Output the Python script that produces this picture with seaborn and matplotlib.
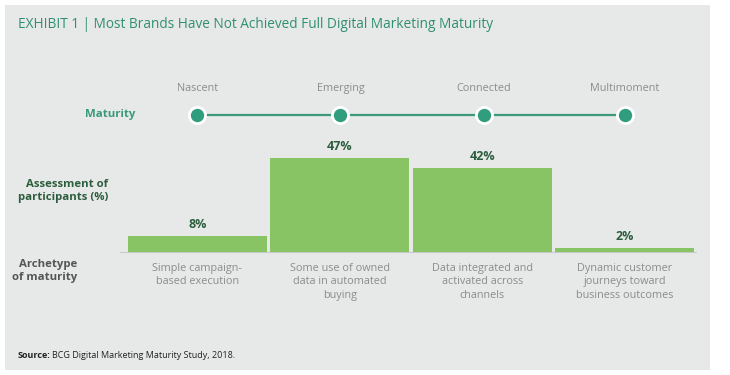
import matplotlib.pyplot as plt
import matplotlib.patches as mpatches
import seaborn as sns
import pandas as pd

# Chart data
stages = ["Nascent", "Emerging", "Connected", "Multimoment"]
shares = [8, 47, 42, 2]
archetypes = [
    "Simple campaign-\nbased execution",
    "Some use of owned\ndata in automated\nbuying",
    "Data integrated and\nactivated across\nchannels",
    "Dynamic customer\njourneys toward\nbusiness outcomes",
]

df = pd.DataFrame({"stage": stages, "share": shares})

W, H = 730, 375
teal = "#2f9d7e"
dark_green = "#2c5e3e"
label_green = "#3a9a7a"
grey_text = "#8c8c8c"
bar_green = "#88c463"
panel = "#e7e8e8"

sns.set_style("white")
plt.rcParams["font.family"] = ["Open Sans", "DejaVu Sans"]

fig = plt.figure(figsize=(W / 100, H / 100), dpi=100)
fig.patch.set_facecolor("white")
fig.patches.append(mpatches.Rectangle((5 / W, 1 - 370 / H), 705 / W, 365 / H,
                                      transform=fig.transFigure, facecolor=panel,
                                      edgecolor="none", zorder=-10))

# bar axes: baseline at y=252px, x from 126 to 696 px
top_px, base_px = 82, 252
ax = fig.add_axes([126 / W, 1 - base_px / H, 570 / W, (base_px - top_px) / H])
ax.set_zorder(1)
ax.patch.set_alpha(0)
sns.barplot(data=df, x="stage", y="share", color=bar_green, saturation=1,
            width=0.972, linewidth=0, ax=ax)
ax.set_xlim(-0.5, 3.5)
ax.set_ylim(0, 85)
for s in ax.spines.values():
    s.set_visible(False)
ax.set_xticks([])
ax.set_yticks([])
ax.set_xlabel("")
ax.set_ylabel("")
ax.plot([-0.54, 3.5], [0, 0], color="#c8c9c9", lw=0.8, clip_on=False, zorder=0)

for i, v in enumerate(shares):
    ax.text(i, v + 2.6, f"{v}%", ha="center", va="bottom", fontsize=9,
            fontweight="bold", color=dark_green)

# maturity line with dots
dot_y = 68.5
xs = [0, 1.005, 2.01, 3.0]
ax.plot(xs, [dot_y] * 4, color=label_green, lw=1.6, zorder=3, clip_on=False)
ax.scatter(xs, [dot_y] * 4, s=135, color=teal, edgecolor="white", linewidth=2,
           zorder=4, clip_on=False)
for x, s in zip(xs, stages):
    ax.text(x, dot_y + 13.5, s, ha="center", va="center", fontsize=7.8, color=grey_text)

for i, t in enumerate(archetypes):
    ax.text(i, -5.5, t, ha="center", va="top", fontsize=7.8, color=grey_text,
            linespacing=1.3)

# row labels
fig.text(110 / W, 1 - 115 / H, "Maturity", ha="center", va="center", fontsize=8.2,
         fontweight="bold", color=label_green)
fig.text(108 / W, 1 - 191 / H, "Assessment of\nparticipants (%)", ha="right",
         va="center", fontsize=8.2, fontweight="bold", color=dark_green,
         linespacing=1.15)
fig.text(77 / W, 1 - 271 / H, "Archetype\nof maturity", ha="right", va="center",
         fontsize=8.2, fontweight="bold", color="#555555", linespacing=1.15)

# title
fig.text(18 / W, 1 - 24 / H, "EXHIBIT 1 | Most Brands Have Not Achieved Full Digital Marketing Maturity",
         ha="left", va="center", fontsize=9.8, color="#2f8f72")

# source
fig.text(18 / W, 1 - 355 / H, "Source:", ha="left", va="center", fontsize=6.5,
         fontweight="bold", color="#222222")
fig.text(52 / W, 1 - 355 / H, "BCG Digital Marketing Maturity Study, 2018.", ha="left",
         va="center", fontsize=6.5, color="#222222")

fig.savefig("out.png", dpi=100)
